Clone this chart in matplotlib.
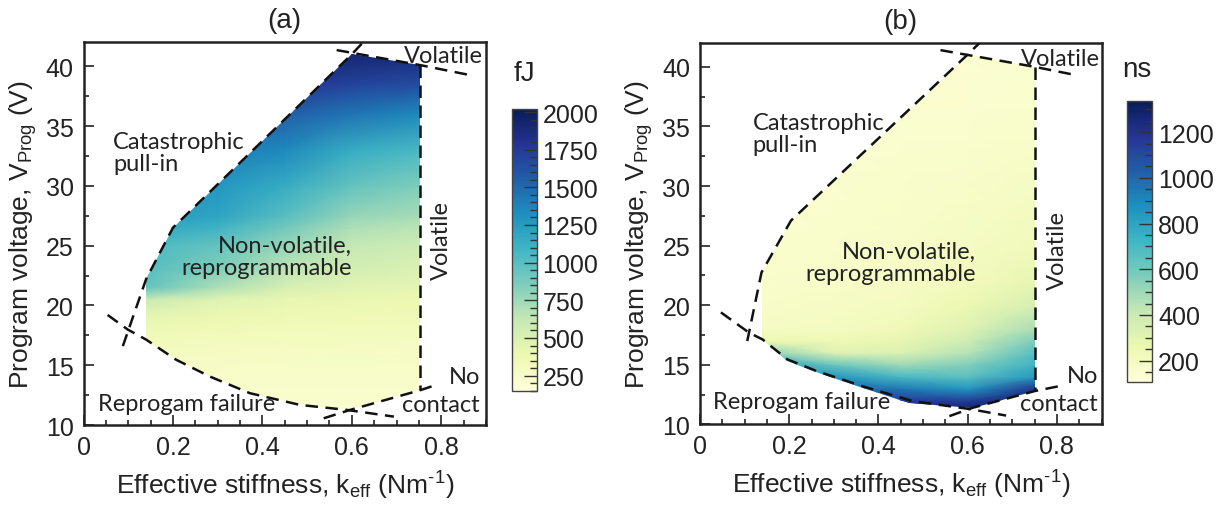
import numpy as np
import matplotlib
matplotlib.use("Agg")
import matplotlib.pyplot as plt
from matplotlib.patches import Polygon
from matplotlib.ticker import MultipleLocator

plt.rcParams['font.family'] = ['Liberation Sans', 'DejaVu Sans']
plt.rcParams['mathtext.fontset'] = 'custom'
plt.rcParams['mathtext.rm'] = 'Liberation Sans'
plt.rcParams['mathtext.it'] = 'Liberation Sans:italic'

ANNOT_FONT = 'Lato'

# ---------------- data ----------------
# boundary lines, panel (a)
a_pullin_k = [0.088, 0.14, 0.2, 0.6, 0.625]
a_pullin_v = [16.6, 22.2, 26.5, 41.0, 42.0]
a_volup_k = [0.566, 0.752, 0.872]
a_volup_v = [41.35, 40.1, 39.2]
a_volside_k = [0.752, 0.752]
a_volside_v = [40.1, 12.9]
a_nocont_k = [0.537, 0.596, 0.752, 0.792]
a_nocont_v = [10.56, 11.26, 12.9, 13.4]
a_fail_k = [0.054, 0.099, 0.14, 0.207, 0.282, 0.372, 0.484, 0.589, 0.694]
a_fail_v = [19.2, 17.98, 17.14, 15.46, 14.06, 12.66, 11.68, 11.26, 10.7]

# region outline, panel (a)
a_reg_k = [0.14, 0.14, 0.2, 0.6, 0.752, 0.752, 0.596, 0.484, 0.372, 0.282, 0.207, 0.14]
a_reg_v = [17.14, 22.2, 26.5, 41.0, 40.1, 12.9, 11.26, 11.68, 12.66, 14.06, 15.46, 17.14]

# switching energy (fJ), panel (a)
a_grid_k = [0.14, 0.3, 0.45, 0.6, 0.76]
a_grid_v = [11, 14, 17, 19, 20.5, 21.5, 23, 25, 26.5, 27.5, 30, 33, 36, 38.5, 41]
a_energy = [
    [220, 220, 220, 220, 220],
    [250, 240, 240, 240, 240],
    [330, 310, 300, 290, 280],
    [420, 380, 360, 350, 340],
    [600, 470, 420, 400, 390],
    [950, 700, 520, 450, 430],
    [1000, 850, 650, 540, 500],
    [1050, 950, 780, 620, 580],
    [1180, 1100, 900, 700, 650],
    [1250, 1200, 1000, 780, 720],
    [1300, 1280, 1150, 950, 850],
    [1400, 1420, 1350, 1150, 1050],
    [1600, 1600, 1550, 1450, 1350],
    [1800, 1800, 1780, 1700, 1650],
    [2000, 2000, 1980, 1920, 1880],
]

# boundary lines, panel (b)
b_pullin_k = [0.106, 0.138, 0.204, 0.602, 0.632]
b_pullin_v = [17.0, 22.76, 27.1, 41.1, 42.2]
b_volup_k = [0.539, 0.75, 0.843]
b_volup_v = [41.4, 40.0, 39.3]
b_volside_k = [0.75, 0.75]
b_volside_v = [40.0, 12.8]
b_nocont_k = [0.559, 0.611, 0.75, 0.803]
b_nocont_v = [10.7, 11.4, 12.8, 13.2]
b_fail_k = [0.047, 0.11, 0.14, 0.196, 0.26, 0.365, 0.477, 0.604, 0.686]
b_fail_v = [19.4, 17.7, 17.14, 15.46, 14.5, 13.2, 11.96, 11.3, 10.75]

# region outline, panel (b)
b_reg_k = [0.14, 0.138, 0.204, 0.602, 0.75, 0.75, 0.611, 0.469, 0.365, 0.26, 0.196, 0.14]
b_reg_v = [17.14, 22.76, 27.1, 41.1, 40.0, 12.8, 11.4, 11.82, 13.1, 14.4, 15.35, 17.14]

# switching time (ns), panel (b)
b_grid_k = [0.14, 0.3, 0.45, 0.6, 0.76]
b_grid_v = [11, 12, 13, 14, 15, 16, 17, 18, 20, 22, 25, 30, 35, 41]
b_time = [
    [1300, 1300, 1300, 1320, 1330],
    [1150, 1150, 1150, 1150, 1300],
    [1000, 1000, 950, 850, 1200],
    [950, 850, 700, 650, 850],
    [850, 620, 500, 560, 750],
    [550, 320, 330, 450, 680],
    [260, 240, 280, 380, 580],
    [190, 200, 235, 320, 480],
    [170, 185, 205, 255, 360],
    [160, 170, 185, 215, 285],
    [150, 160, 170, 190, 230],
    [140, 150, 158, 168, 190],
    [130, 138, 145, 150, 160],
    [120, 125, 130, 135, 140],
]

x_ticks = [0, 0.2, 0.4, 0.6, 0.8]
x_ticklabels = ['0', '0.2', '0.4', '0.6', '0.8']
y_ticks = [10, 15, 20, 25, 30, 35, 40]

a_cbar_ticks = [250, 500, 750, 1000, 1250, 1500, 1750, 2000]
b_cbar_ticks = [200, 400, 600, 800, 1000, 1200]

fig = plt.figure(figsize=(12.28, 5.06), dpi=100)

dash = (0, (5, 3))
TXT = '#222222'


def draw_panel(ax, cax, gk, gv, vals, vmin, vmax, reg_k, reg_v, lines, texts,
               title, unit, cticks, unit_xy):
    patch = Polygon(np.column_stack([reg_k, reg_v]), closed=True,
                    facecolor='none', edgecolor='none')
    ax.add_patch(patch)
    K, V = np.meshgrid(gk, gv)
    mesh = ax.pcolormesh(K, V, np.array(vals, dtype=float), shading='gouraud',
                         cmap='YlGnBu', vmin=vmin, vmax=vmax, rasterized=True)
    mesh.set_clip_path(patch)
    for lk, lv in lines:
        ax.plot(lk, lv, color='#111111', lw=1.8, linestyle=dash, zorder=3)
    for t in texts:
        ax.text(*t[0], t[1], fontsize=17, family=ANNOT_FONT, color=TXT, **t[2])
    ax.set_xlim(0, 0.9)
    ax.set_ylim(10, 42)
    ax.set_xticks(x_ticks)
    ax.set_xticklabels(x_ticklabels)
    ax.set_yticks(y_ticks)
    ax.xaxis.set_minor_locator(MultipleLocator(0.05))
    ax.yaxis.set_minor_locator(MultipleLocator(2.5))
    ax.tick_params(which='both', direction='in', top=False, right=False,
                   width=1.2, colors=TXT, labelsize=18)
    ax.tick_params(which='major', length=7, pad=7)
    ax.tick_params(which='minor', length=3.5)
    for s in ax.spines.values():
        s.set_linewidth(1.8)
        s.set_color(TXT)
    ax.set_xlabel(r'Effective stiffness, k$_{\mathrm{eff}}$ (Nm$^{\text{-}1}$)',
                  fontsize=19, color=TXT, labelpad=7)
    ax.set_ylabel(r'Program voltage, V$_{\mathrm{Prog}}$ (V)',
                  fontsize=19, color=TXT, labelpad=5)
    ax.set_title(title, fontsize=20, color=TXT, pad=11)

    cb = fig.colorbar(mesh, cax=cax)
    cb.set_ticks(cticks)
    cb.ax.yaxis.set_minor_locator(MultipleLocator(50))
    cb.ax.tick_params(which='both', direction='in', right=True, left=False,
                      colors='#333333', labelsize=18, width=1.0)
    cb.ax.tick_params(which='major', length=9.5, pad=4)
    cb.ax.tick_params(which='minor', length=5)
    for lab in cb.ax.get_yticklabels():
        lab.set_color(TXT)
    cb.outline.set_linewidth(1.0)
    cb.outline.set_edgecolor('#444444')
    fig.text(unit_xy[0], unit_xy[1], unit, fontsize=20, color=TXT,
             ha='center', va='center')


ax_a = fig.add_axes([0.0680, 0.1581, 0.3278, 0.7563])
cax_a = fig.add_axes([0.4167, 0.2259, 0.0204, 0.5567])
ax_b = fig.add_axes([0.5700, 0.1591, 0.3270, 0.7540])
cax_b = fig.add_axes([0.9180, 0.2425, 0.0204, 0.5565])

texts_a = [
    ((0.066, 32.8), 'Catastrophic\npull-in', dict(ha='left', va='center', linespacing=1.05)),
    ((0.6, 24.1), 'Non-volatile,\nreprogrammable', dict(ha='right', va='center', multialignment='right', linespacing=1.05)),
    ((0.801, 25.5), 'Volatile', dict(ha='center', va='center', rotation=90)),
    ((0.805, 40.9), 'Volatile', dict(ha='center', va='center')),
    ((0.851, 14.06), 'No', dict(ha='center', va='center')),
    ((0.799, 11.7), 'contact', dict(ha='center', va='center')),
    ((0.23, 11.8), 'Reprogam failure', dict(ha='center', va='center')),
]
texts_b = [
    ((0.118, 34.4), 'Catastrophic\npull-in', dict(ha='left', va='center', linespacing=1.05)),
    ((0.619, 23.6), 'Non-volatile,\nreprogrammable', dict(ha='right', va='center', multialignment='right', linespacing=1.05)),
    ((0.802, 24.7), 'Volatile', dict(ha='center', va='center', rotation=90)),
    ((0.809, 40.7), 'Volatile', dict(ha='center', va='center')),
    ((0.857, 14.1), 'No', dict(ha='center', va='center')),
    ((0.804, 11.8), 'contact', dict(ha='center', va='center')),
    ((0.228, 11.9), 'Reprogam failure', dict(ha='center', va='center')),
]

draw_panel(ax_a, cax_a, a_grid_k, a_grid_v, a_energy, 150, 2020, a_reg_k, a_reg_v,
           [(a_pullin_k, a_pullin_v), (a_volup_k, a_volup_v), (a_volside_k, a_volside_v),
            (a_nocont_k, a_nocont_v), (a_fail_k, a_fail_v)],
           texts_a, '(a)', 'fJ', a_cbar_ticks, (524 / 1228, 1 - 74 / 506))

draw_panel(ax_b, cax_b, b_grid_k, b_grid_v, b_time, 105, 1338, b_reg_k, b_reg_v,
           [(b_pullin_k, b_pullin_v), (b_volup_k, b_volup_v), (b_volside_k, b_volside_v),
            (b_nocont_k, b_nocont_v), (b_fail_k, b_fail_v)],
           texts_b, '(b)', 'ns', b_cbar_ticks, (1137 / 1228, 1 - 70 / 506))

fig.savefig('out.png', dpi=100)
